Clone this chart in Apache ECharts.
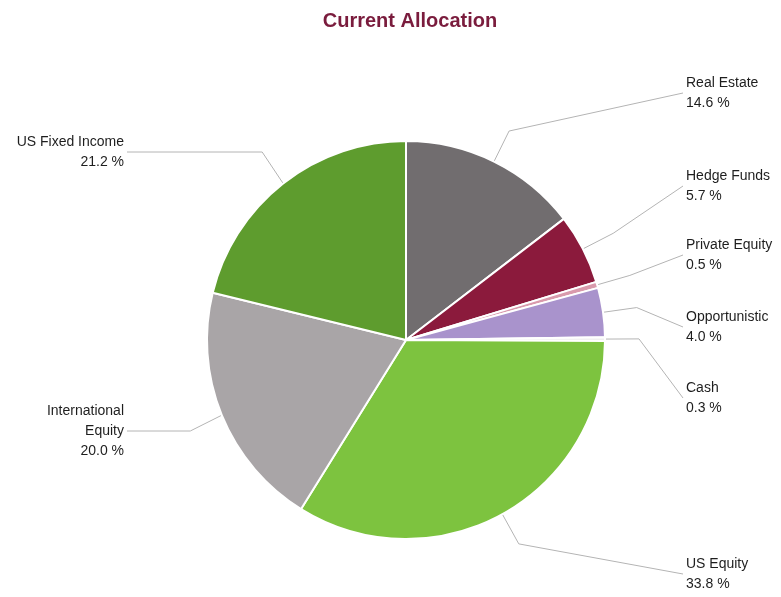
<!DOCTYPE html>
<html>
<head>
<meta charset="utf-8">
<title>Current Allocation</title>
<script src="https://cdn.jsdelivr.net/npm/echarts@6/dist/echarts.min.js"></script>
<style>
    html, body { margin: 0; padding: 0; background: #fff; }
    #chart-pie { width: 781px; height: 597px; }
</style>
</head>
<body>
<div id="chart-pie"></div>
<script>
// data
var categories = ['Real Estate', 'Hedge Funds', 'Private Equity', 'Opportunistic', 'Cash',
    'US Equity', 'International Equity', 'US Fixed Income'];
var allocation = [14.6, 5.7, 0.5, 4.0, 0.3, 33.8, 20.0, 21.2];
var colors = ['#716d6f', '#8b1a3c', '#d99aac', '#a993cc', '#f0f0f0',
    '#7dc33f', '#a9a5a7', '#5e9c2e'];

// label placement (vertical centre of each label block)
var labelY = [93, 186, 255, 327, 398, 574, 431, 152];
var RIGHT_X = 686, LEFT_X = 124;

var chartDom = document.getElementById('chart-pie');
var myChart = echarts.init(chartDom);

var pieData = [];
for (let i = 0; i < categories.length; i++) {
    pieData.push({
        name: categories[i],
        value: allocation[i],
        itemStyle: {color: colors[i]}
    });
}

var option = {
    animation: false,
    title: {
        text: 'Current Allocation',
        left: 405,
        top: 6,
        textAlign: 'center',
        textStyle: {
            fontFamily: 'Liberation Sans',
            fontSize: 20,
            fontWeight: 'bold',
            color: '#7a1c3d'
        }
    },
    series: [{
        type: 'pie',
        center: [406, 340],
        radius: 199,
        startAngle: 90,
        clockwise: true,
        avoidLabelOverlap: false,
        itemStyle: {
            borderColor: '#fff',
            borderWidth: 2
        },
        label: {
            fontFamily: 'Liberation Sans',
            fontSize: 14,
            lineHeight: 20,
            color: '#1e1e1e',
            formatter: function (p) {
                let name = p.name.replace('International ', 'International\n');
                return name + '\n' + p.value.toFixed(1) + ' %';
            }
        },
        labelLine: {
            length: 34,
            length2: 10,
            lineStyle: {color: '#b4b4b4', width: 1}
        },
        labelLayout: function (params) {
            let i = params.dataIndex;
            let isRight = i < 6;
            let x = isRight ? RIGHT_X : LEFT_X;
            let y = labelY[i];
            let points = params.labelLinePoints;
            if (points !== undefined) {
                // left side labels get a flat last segment
                if (!isRight) {
                    points[1][1] = y;
                }
                points[2] = [isRight ? x - 3 : x + 3, y];
            }
            return {
                x: x,
                y: y,
                align: isRight ? 'left' : 'right',
                verticalAlign: 'middle',
                labelLinePoints: points
            };
        },
        data: pieData
    }]
};
myChart.setOption(option);
</script>
</body>
</html>
